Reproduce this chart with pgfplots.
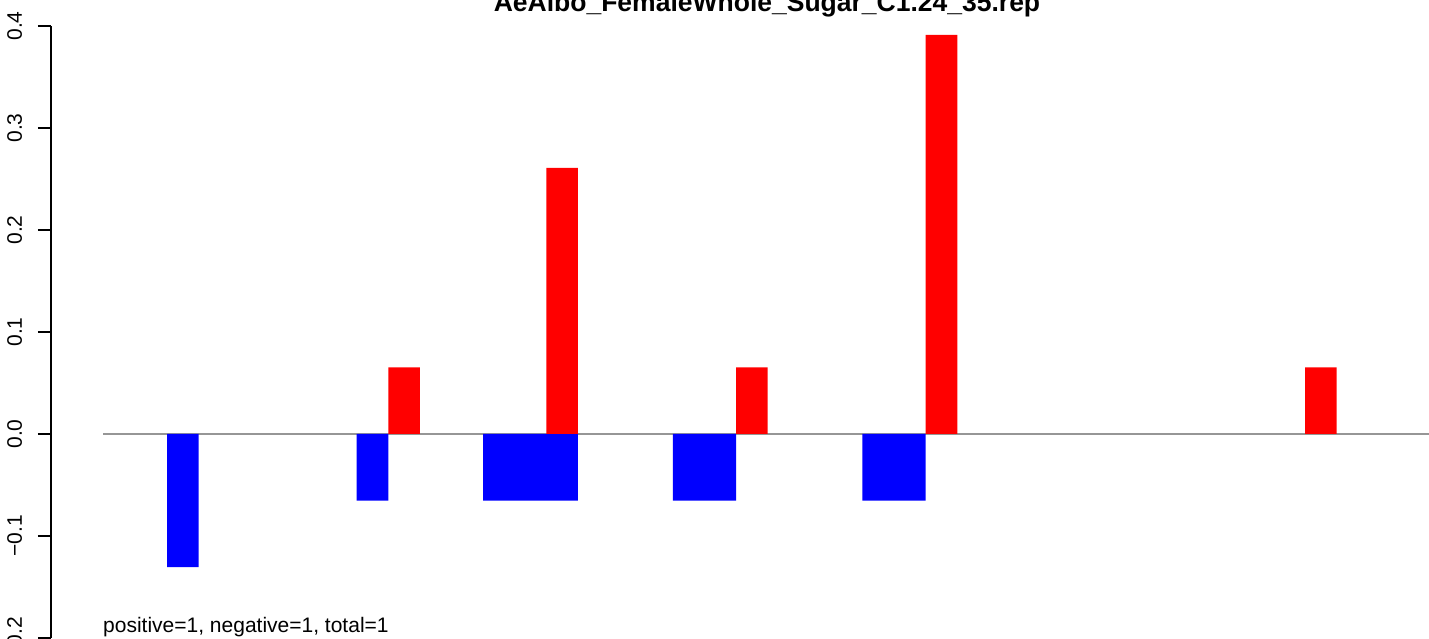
\documentclass[border=0pt]{standalone}
\usepackage{pgfplots}
\pgfplotsset{compat=1.18}
\usepackage{fontspec}
\setmainfont{Liberation Sans}
\definecolor{zerogray}{RGB}{150,150,150}
\definecolor{rblue}{RGB}{0,0,255}
\definecolor{rred}{RGB}{255,0,0}
\begin{document}
\begin{tikzpicture}
\begin{axis}[
  at={(0,0)}, anchor=south west,
  scale only axis, width=1378bp, height=612bp,
  xmin=-3.67, xmax=39.92, ymin=-0.2, ymax=0.4,
  axis x line=none, axis y line*=left,
  ytick={-0.2,-0.1,0,0.1,0.2,0.3,0.4},
  yticklabels={−0.2,−0.1,0.0,0.1,0.2,0.3,0.4},
  tick align=outside, major tick length=13bp,
  y axis line style={line width=1.1bp, black},
  ytick style={line width=1.1bp, black},
  yticklabel style={font=\fontsize{21bp}{25bp}\selectfont, rotate=90, anchor=base, inner sep=0pt, yshift=16bp},
  clip=false,
]
\addplot[zerogray, line width=1.5bp] coordinates {(-2.02,0) (39.92,0)};
\addplot[ybar, bar width=1, bar shift=0pt, fill=rblue, draw=none] coordinates {
  (0.5,-0.1304) (6.5,-0.0652) (10.5,-0.0652) (11.5,-0.0652) (12.5,-0.0652)
  (16.5,-0.0652) (17.5,-0.0652) (22.5,-0.0652) (23.5,-0.0652)};
\addplot[ybar, bar width=1, bar shift=0pt, fill=rred, draw=none] coordinates {
  (7.5,0.0652) (12.5,0.2609) (18.5,0.0652) (24.5,0.3913) (36.5,0.0652)};
\end{axis}
\node[anchor=base, inner sep=0pt, font=\fontsize{26.5bp}{30bp}\selectfont\bfseries] at (716bp,626.5bp) {AeAlbo\_FemaleWhole\_Sugar\_C1.24\_35.rep};
\node[anchor=base west, inner sep=0pt, font=\fontsize{21bp}{25bp}\selectfont] at (52bp,5.5bp) {positive=1, negative=1, total=1};
\pgfresetboundingbox
\useasboundingbox (-51bp,-1bp) rectangle (1378bp,638bp);
\end{tikzpicture}
\end{document}
